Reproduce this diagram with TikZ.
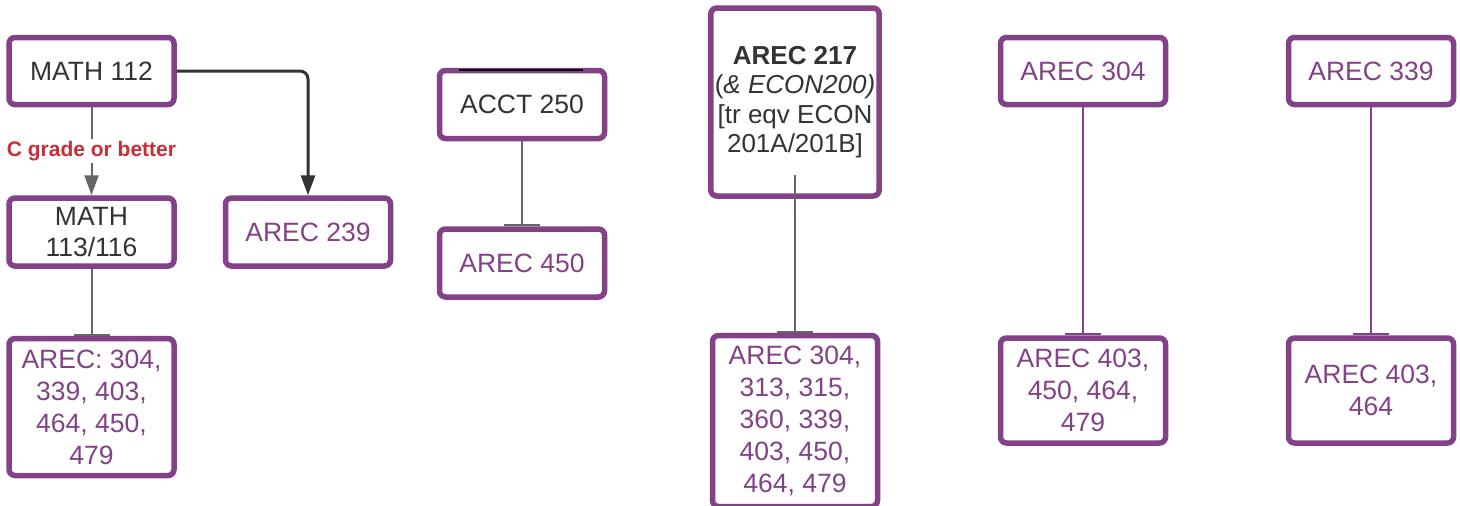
\documentclass[tikz,border=0pt]{standalone}
\usepackage{fontspec}
\setmainfont{Liberation Sans}
\usetikzlibrary{arrows.meta,positioning}
\definecolor{lucidpurple}{HTML}{834187}
\definecolor{lucidred}{HTML}{C92D39}
\definecolor{txtgray}{HTML}{333333}
\definecolor{linegray}{HTML}{666666}

\begin{document}
\begin{tikzpicture}[
  x=1pt, y=-1pt,
  font=\fontsize{26.5}{32}\selectfont,
  course/.style={draw=lucidpurple, line width=5.5pt, rounded corners=6pt, fill=white,
    align=center, inner sep=4pt, minimum width=165pt, minimum height=67pt, text=lucidpurple},
  prereq/.style={course, text=txtgray},
  arr/.style={-{Triangle[width=14pt,length=20pt]}, line width=2pt, linegray},
  tee/.style={-{Bar[width=36pt]}, line width=2pt, linegray},
  ptee/.style={tee, lucidpurple}
]
\useasboundingbox (0,0) rectangle (1460,506);

% top row
\node[prereq] (math112) at (91.5,71) {MATH 112};
\node[prereq, minimum height=68pt] (acct250) at (522,104.5) {ACCT 250};
\node[prereq, minimum height=188pt, font=\fontsize{26}{29.5}\selectfont] (arec217) at (795,102)
  {\textbf{AREC 217}\\(\textit{\& ECON200)}\\{[}tr eqv ECON\\201A/201B]};
\node[course] (arec304) at (1083,71) {AREC 304};
\node[course] (arec339) at (1371,71) {AREC 339};

% second row
\node[prereq, minimum height=68pt, below=88pt of math112] (math113) {MATH\\[-1pt]113/116};
\node[course, minimum height=68pt, right=46pt of math113] (arec239) {AREC 239};
\node[course, minimum height=68pt, below=85pt of acct250] (arec450) {AREC 450};

% bottom row
\node[course, minimum height=137pt, below=67pt of math113] (mathlist) {AREC: 304,\\339, 403,\\464, 450,\\479};
\node[course, minimum height=171pt, below=134pt of arec217] (list217) {AREC 304,\\313, 315,\\360, 339,\\403, 450,\\464, 479};
\node[course, minimum height=105pt, below=228pt of arec304] (list304) {AREC 403,\\450, 464,\\479};
\node[course, minimum height=105pt, below=228pt of arec339] (list339) {AREC 403,\\464};

% connectors
\draw[arr] (math112) -- node[fill=white, inner sep=2pt, text=lucidred,
  font=\bfseries\fontsize{21}{24}\selectfont] {C grade or better} (math113);
\draw[-{Triangle[width=14pt,length=20pt]}, line width=3pt, txtgray, rounded corners=8pt]
  (math112.east) -| (arec239.north);
\draw[tee] (math113) -- (mathlist);
\draw[tee] (acct250) -- (arec450);
\draw[tee] ([yshift=24pt]arec217.south) -- (list217);
\draw[ptee] (arec304) -- (list304);
\draw[ptee] (arec339) -- (list339);
\draw[line width=2.5pt, black] ([xshift=-63pt,yshift=-2pt]acct250.north) -- ([xshift=61pt,yshift=-2pt]acct250.north);
\end{tikzpicture}
\end{document}
